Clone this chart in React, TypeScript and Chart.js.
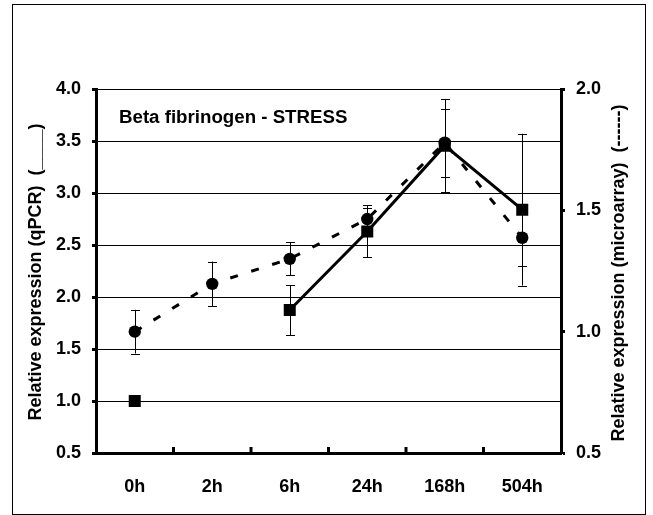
import React, { useEffect, useRef } from "react";
import { Chart, registerables } from "chart.js";

Chart.register(...registerables);

const categories = ["0h", "2h", "6h", "24h", "168h", "504h"];
const qpcrValues: (number | null)[] = [1.0, null, 1.875, 2.63, 3.455, 2.84];
const qpcrErrors: (number | null)[] = [0, null, 0.24, 0.25, 0.45, 0.73];
const microValues: (number | null)[] = [1.0, 1.197, 1.3, 1.464, 1.779, 1.387];
const microErrors: (number | null)[] = [0.09, 0.092, 0.068, 0.044, 0.14, 0.117];
const leftTicks = [0.5, 1.0, 1.5, 2.0, 2.5, 3.0, 3.5, 4.0];
const rightTicks = [0.5, 1.0, 1.5, 2.0];

const chartTitle = "Beta fibrinogen - STRESS";
const leftTitle = "Relative expression (qPCR)  (____)";
const rightTitle = "Relative expression (microarray)  (------)";

const FONT = "'Liberation Sans', Arial, Helvetica, sans-serif";

const errorBarPlugin = {
  id: "errorBars",
  beforeDatasetsDraw(chart: any) {
    const ctx = chart.ctx;
    const xs = chart.scales.x;
    ctx.save();
    ctx.strokeStyle = "#000";
    ctx.lineWidth = 1;
    chart.data.datasets.forEach((ds: any) => {
      const ys = chart.scales[ds.yAxisID];
      const errs = ds.errors as (number | null)[];
      ds.data.forEach((v: number | null, i: number) => {
        const e = errs[i];
        if (v == null || e == null || e <= 0) return;
        const x = Math.round(xs.getPixelForValue(i)) + 0.5;
        const yt = ys.getPixelForValue(v + e);
        const yb = ys.getPixelForValue(v - e);
        ctx.beginPath();
        ctx.moveTo(x, yt);
        ctx.lineTo(x, yb);
        ctx.moveTo(x - 4.5, Math.round(yt) + 0.5);
        ctx.lineTo(x + 4.5, Math.round(yt) + 0.5);
        ctx.moveTo(x - 4.5, Math.round(yb) + 0.5);
        ctx.lineTo(x + 4.5, Math.round(yb) + 0.5);
        ctx.stroke();
      });
    });
    ctx.restore();
  },
};

const decorPlugin = {
  id: "decor",
  afterDraw(chart: any) {
    const ctx = chart.ctx;
    const xs = chart.scales.x;
    const area = chart.chartArea;
    ctx.save();
    // inner ticks on x axis at category boundaries
    ctx.strokeStyle = "#000";
    ctx.lineWidth = 3;
    for (let i = 1; i < categories.length; i++) {
      const x = (xs.getPixelForValue(i - 1) + xs.getPixelForValue(i)) / 2;
      ctx.beginPath();
      ctx.moveTo(x, area.bottom);
      ctx.lineTo(x, area.bottom - 6);
      ctx.stroke();
    }
    // outer border
    ctx.lineWidth = 1;
    ctx.strokeRect(12.5, 4.5, 633, 510);
    // chart title
    ctx.fillStyle = "#000";
    ctx.font = `bold 18.7px ${FONT}`;
    ctx.textAlign = "left";
    ctx.textBaseline = "alphabetic";
    ctx.fillText(chartTitle, 119, 123);
    // axis titles
    ctx.font = `bold 18px ${FONT}`;
    ctx.textAlign = "center";
    ctx.textBaseline = "middle";
    ctx.save();
    ctx.translate(36, 272);
    ctx.rotate(-Math.PI / 2);
    ctx.fillText(leftTitle, 0, 0);
    ctx.restore();
    ctx.save();
    ctx.translate(619, 273);
    ctx.rotate(-Math.PI / 2);
    ctx.fillText(rightTitle, 0, 0);
    ctx.restore();
    ctx.restore();
  },
};

export default function App() {
  const ref = useRef<HTMLCanvasElement | null>(null);
  useEffect(() => {
    document.body.style.margin = "0";
    const canvas = ref.current;
    if (!canvas) return;
    const tickFont = { family: FONT, size: 18, weight: "bold" as const };
    const chart = new Chart(canvas, {
      type: "line",
      data: {
        labels: categories,
        datasets: [
          {
            label: "qPCR",
            data: qpcrValues,
            errors: qpcrErrors,
            yAxisID: "y",
            borderColor: "#000",
            backgroundColor: "#000",
            borderWidth: 3,
            pointStyle: "rect",
            pointRadius: 8.5,
            pointHoverRadius: 8.5,
            pointBorderWidth: 0,
            spanGaps: false,
            tension: 0,
          } as any,
          {
            label: "microarray",
            data: microValues,
            errors: microErrors,
            yAxisID: "y1",
            borderColor: "#000",
            backgroundColor: "#000",
            borderWidth: 3,
            borderDash: [8, 14],
            pointStyle: "circle",
            pointRadius: 6.2,
            pointHoverRadius: 6.2,
            pointBorderWidth: 0,
            tension: 0,
          } as any,
        ],
      },
      options: {
        animation: false,
        responsive: false,
        maintainAspectRatio: false,
        layout: { padding: { top: 89, left: 0, right: 0, bottom: 0 } },
        plugins: {
          legend: { display: false },
          tooltip: { enabled: false },
          title: { display: false },
        },
        scales: {
          x: {
            type: "category",
            offset: true,
            grid: { display: true, drawOnChartArea: false, drawTicks: false },
            border: { display: true, color: "#000", width: 3 },
            ticks: { color: "#000", font: tickFont, padding: 23, maxRotation: 0, autoSkip: false },
            afterFit: (s: any) => {
              s.height = 62;
            },
          },
          y: {
            position: "left",
            min: 0.5,
            max: 4.0,
            afterBuildTicks: (s: any) => {
              s.ticks = leftTicks.map((v) => ({ value: v }));
            },
            ticks: {
              color: "#000",
              font: tickFont,
              padding: 11,
              callback: (v: any) => Number(v).toFixed(1),
            },
            grid: { color: "#000", lineWidth: 1, drawTicks: true, tickLength: 4, tickColor: "#000", tickWidth: 3 },
            border: { display: true, color: "#000", width: 3 },
            afterFit: (s: any) => {
              s.width = 96;
            },
          },
          y1: {
            position: "right",
            min: 0.5,
            max: 2.0,
            afterBuildTicks: (s: any) => {
              s.ticks = rightTicks.map((v) => ({ value: v }));
            },
            ticks: {
              color: "#000",
              font: tickFont,
              padding: 11,
              callback: (v: any) => Number(v).toFixed(1),
            },
            grid: { drawOnChartArea: false, drawTicks: true, tickLength: 4, tickColor: "#000", tickWidth: 3, color: "#000" },
            border: { display: true, color: "#000", width: 3 },
            afterFit: (s: any) => {
              s.width = 92;
            },
          },
        },
      } as any,
      plugins: [errorBarPlugin, decorPlugin],
    });
    return () => chart.destroy();
  }, []);
  return (
    <div style={{ position: "absolute", left: 0, top: 0, width: 653, height: 515, background: "#fff" }}>
      <canvas ref={ref} width={653} height={515} style={{ display: "block" }} />
    </div>
  );
}
